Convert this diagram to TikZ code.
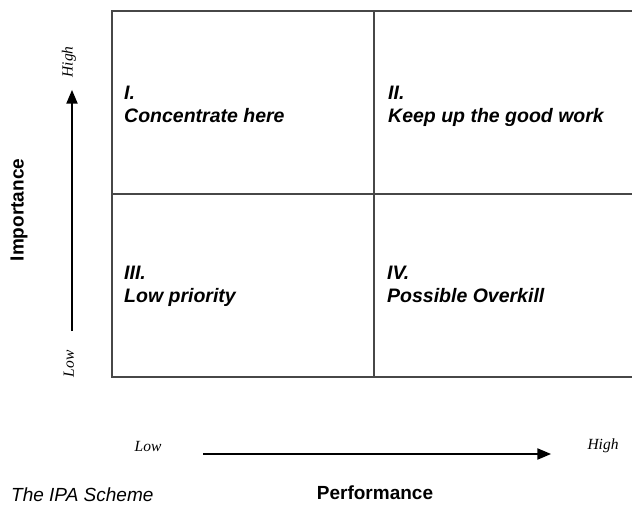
\documentclass[tikz,border=0pt]{standalone}
\usepackage{fontspec}
\setmainfont{Liberation Sans}
\newfontfamily\levelfont{Liberation Serif}
\usetikzlibrary{arrows}

\begin{document}
\begin{tikzpicture} [x=1pt,y=-1pt,>=triangle 45,
  quad/.style={anchor=north west,inner sep=0pt,align=left,font=\fontsize{19.5}{22.5}\selectfont\bfseries\itshape},
  level/.style={inner sep=0pt,font=\fontsize{15.5}{18}\selectfont\levelfont\itshape},
  axisname/.style={inner sep=0pt,font=\fontsize{19}{22}\selectfont\bfseries},
  grid/.style={line width=2pt,black!72}]
\useasboundingbox (0,0) rectangle (632,508);
\draw[grid] (112,11) rectangle (660,377);
\draw[grid] (374,11) -- (374,377);
\draw[grid] (112,194) -- (660,194);
\node (q1) at (124,86) [quad] {I.\\Concentrate here};
\node (q2) at (388,86) [quad] {II.\\Keep up the good work};
\node (q3) at (124,266) [quad] {III.\\Low priority};
\node (q4) at (387,266) [quad] {IV.\\Possible Overkill};
\coordinate (imp-from) at (72,331);
\coordinate (imp-to) at (72,90);
\coordinate (perf-from) at (203,454);
\coordinate (perf-to) at (551,454);
\draw[->,line width=2.2pt] (imp-from) -- (imp-to);
\draw[->,line width=2.2pt] (perf-from) -- (perf-to);
\node (imp-high) at (69,62) [level,rotate=90] {High};
\node (imp-low) at (69,364) [level,rotate=90] {Low};
\node (perf-low) at (148,446) [level] {Low};
\node (perf-high) at (603,446) [level] {High};
\node (imp-name) at (19,210) [axisname,rotate=90] {Importance};
\node (perf-name) at (375,499) [axisname,anchor=base] {Performance};
\node (caption) at (11,501) [anchor=base west,inner sep=0pt,font=\fontsize{19}{22}\selectfont\itshape] {The IPA Scheme};
\end{tikzpicture}
\end{document}
